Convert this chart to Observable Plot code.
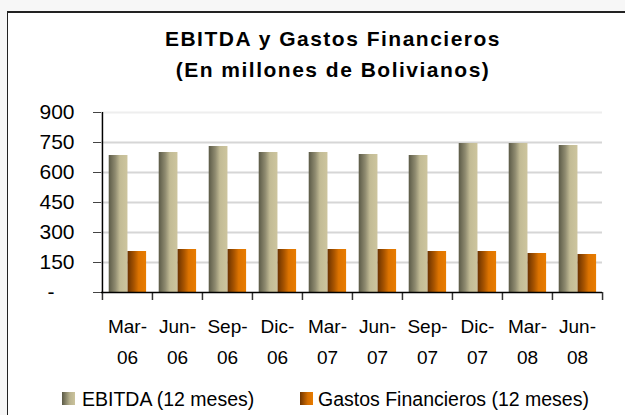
<!DOCTYPE html>
<html>
<head>
<meta charset="utf-8">
<script src="https://cdn.jsdelivr.net/npm/d3@7"></script>
<script src="https://cdn.jsdelivr.net/npm/@observablehq/plot@0.6"></script>
<style>
  html, body { margin: 0; padding: 0; width: 625px; height: 415px; overflow: hidden; background: #f7f7f7; }
  body { position: relative; font-family: "Liberation Sans", Arial, sans-serif; }
  #box { position: absolute; left: 7px; top: 11px; width: 700px; height: 500px; background: #fff;
         border-left: 1.5px solid #222; border-top: 2px solid #222; }
  .title { position: absolute; left: 0; width: 666px; text-align: center; font-weight: bold;
           font-size: 21px; letter-spacing: 1.5px; color: #000; white-space: nowrap; }
  #chart { position: absolute; left: 0; top: 95px; }
  .leg { position: absolute; top: 388px; font-size: 19.5px; color: #000; white-space: nowrap; line-height: 22px; }
  .sw { position: absolute; top: 392px; width: 13px; height: 13px; }
</style>
</head>
<body>
<div id="box"></div>
<div class="title" style="top:27px">EBITDA y Gastos Financieros</div>
<div class="title" style="top:58px">(En millones de Bolivianos)</div>
<div id="chart"></div>
<div class="sw" style="left:62px; background: linear-gradient(to right, #5b5a47, #b8b28e 60%, #cbc39c);"></div>
<div class="leg" style="left:82px">EBITDA (12 meses)</div>
<div class="sw" style="left:300px; background: linear-gradient(to right, #6e3400, #d56e00 60%, #e87c00);"></div>
<div class="leg" style="left:318px">Gastos Financieros (12 meses)</div>
<script>
const categories = ["Mar-06","Jun-06","Sep-06","Dic-06","Mar-07","Jun-07","Sep-07","Dic-07","Mar-08","Jun-08"];
const ebitda = [685, 700, 730, 700, 700, 690, 685, 745, 745, 735];
const gastos = [205, 215, 215, 215, 215, 215, 205, 205, 195, 190];
const yTicks = [0, 150, 300, 450, 600, 750, 900];

const data = categories.map((c, i) => ({cat: c, ebitda: ebitda[i], gastos: gastos[i]}));

const W = 625, H = 285, mL = 101, mR = 23, mT = 17, mB = 88;
const bw = (W - mL - mR) / categories.length;

const plot = Plot.plot({
  width: W, height: H,
  marginLeft: mL, marginRight: mR, marginTop: mT, marginBottom: mB,
  style: {background: "transparent", fontFamily: "'Liberation Sans', Arial, sans-serif", color: "#000"},
  x: {type: "band", domain: categories, padding: 0, axis: null},
  y: {domain: [0, 900], axis: null},
  marks: [
    Plot.ruleY(yTicks.filter(d => d > 0 && d < 900), {stroke: "#d6d6d6", strokeWidth: 2}),
    Plot.ruleY([900], {stroke: "#eeeeee", strokeWidth: 2}),
    Plot.barY(data, {x: "cat", y: "ebitda", fill: "url(#gradE)", insetLeft: 0.134 * bw, insetRight: 0.49 * bw}),
    Plot.barY(data, {x: "cat", y: "gastos", fill: "url(#gradG)", insetLeft: 0.51 * bw, insetRight: 0.118 * bw}),
    Plot.axisY({ticks: yTicks, tickFormat: d => d === 0 ? "" : d, fontSize: 21, tickSize: 8, tickPadding: 19, stroke: "#444", label: null}),
    Plot.text([0], {y: d => d, text: () => "-", frameAnchor: "left", dx: -54, fontSize: 21}),
    Plot.ruleX(categories, {x: d => d, dx: -bw / 2, insetTop: H - mT - mB, insetBottom: -8, stroke: "#333", strokeWidth: 1.5}),
    Plot.ruleX(categories.slice(-1), {x: d => d, dx: bw / 2, insetTop: H - mT - mB, insetBottom: -8, stroke: "#333", strokeWidth: 1.5}),
    Plot.axisX({tickSize: 0, tickPadding: 19, fontSize: 19, lineHeight: 1.63, label: null, tickFormat: d => d.replace("-", "-\n")}),
    Plot.ruleY([0], {stroke: "#000", strokeWidth: 1.5}),
    Plot.ruleX([categories[0]], {x: d => d, dx: -bw / 2, y1: 0, y2: 900, stroke: "#000", strokeWidth: 1.5})
  ]
});

const ns = "http://www.w3.org/2000/svg";
const defs = document.createElementNS(ns, "defs");
function grad(id, stops) {
  const g = document.createElementNS(ns, "linearGradient");
  g.setAttribute("id", id);
  g.setAttribute("x1", "0"); g.setAttribute("x2", "1"); g.setAttribute("y1", "0"); g.setAttribute("y2", "0");
  for (const [o, c] of stops) {
    const s = document.createElementNS(ns, "stop");
    s.setAttribute("offset", o); s.setAttribute("stop-color", c);
    g.appendChild(s);
  }
  defs.appendChild(g);
}
grad("gradE", [["0", "#5b5a47"], ["0.35", "#8f8b70"], ["0.6", "#c2bb95"], ["1", "#cdc59e"]]);
grad("gradG", [["0", "#6a3200"], ["0.35", "#a85400"], ["0.6", "#dc7300"], ["1", "#e87c00"]]);
plot.insertBefore(defs, plot.firstChild);
document.getElementById("chart").appendChild(plot);
</script>
</body>
</html>
